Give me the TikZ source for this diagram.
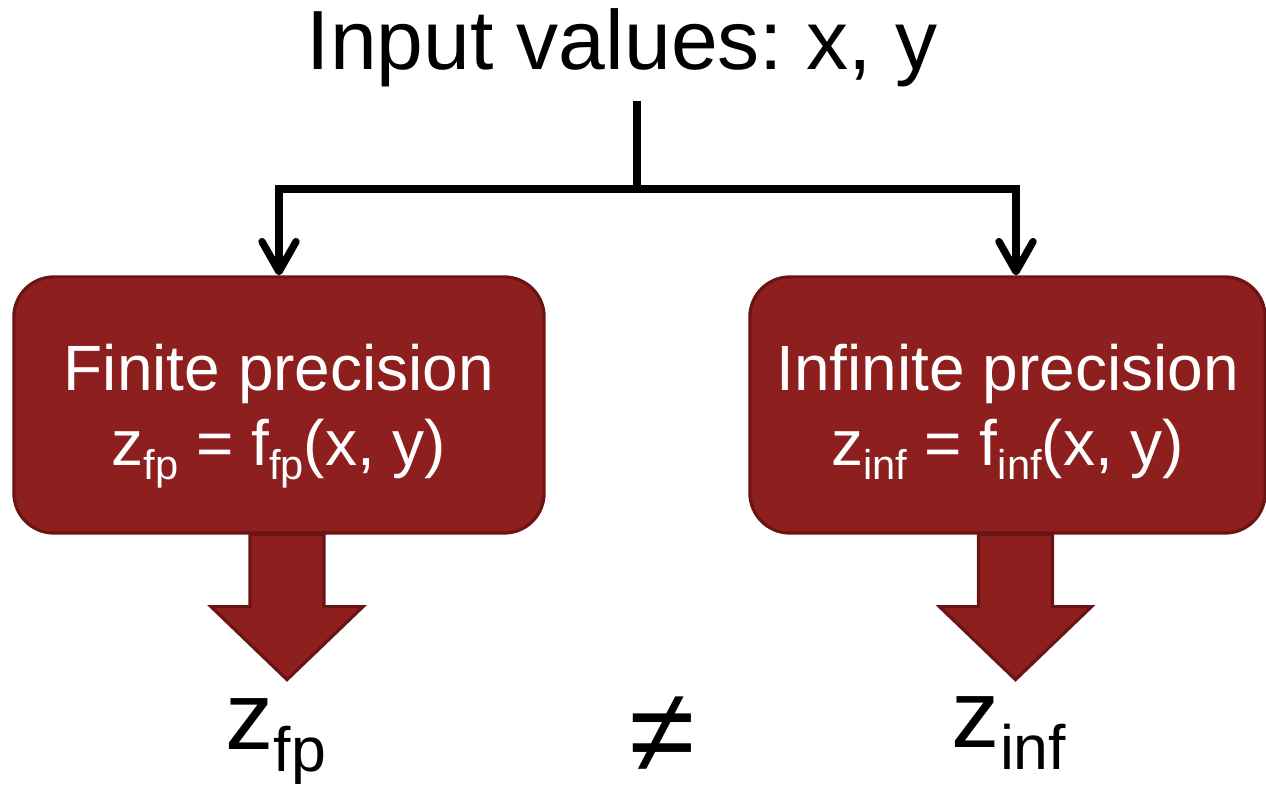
\documentclass[tikz,border=0pt]{standalone}
\usepackage{fontspec}
\setmainfont{Liberation Sans}
\usetikzlibrary{arrows.meta}
\definecolor{boxred}{HTML}{8E1F1F}
\definecolor{boxedge}{HTML}{6A1414}
\newcommand{\lowsub}[1]{\raisebox{-0.22em}{\scalebox{0.65}{#1}}}
\frenchspacing

\begin{document}
\begin{tikzpicture}[x=0.01cm, y=-0.01cm,
    procbox/.style={rectangle, draw=boxedge, line width=0.9pt, fill=boxred, rounded corners=0.4cm, text=white, align=center, minimum height=2.56cm, text depth=0pt, font=\fontsize{18.2}{21.2}\selectfont},
    wire/.style={line width=2.1pt, -{Straight Barb[length=3mm, width=3.4mm, round]}},
    bigarrow/.style={draw=boxedge, line width=0.9pt, fill=boxred},
    result/.style={font=\fontsize{27.4}{32}\selectfont, inner sep=0pt}
]
\useasboundingbox (0,0) rectangle (1266,786);

% Input line (absolute coordinates)
\node[anchor=base, inner sep=1.3mm, font=\fontsize{23.9}{28}\selectfont] (title) at (622,70) {Input values: x, y};

% The two evaluations
\node[procbox, minimum width=5.3cm] (finite) at (279,405) {Finite precision\\z\lowsub{fp} = f\lowsub{fp}(x, y)};
\node[procbox, minimum width=5.15cm] (infinite) at (1007.5,405) {Infinite precision\\z\lowsub{inf} = f\lowsub{inf}(x, y)};

% Results
\node[result, anchor=base] (zfp) at (276,750) {z\lowsub{fp}};
\node[result, font=\fontsize{34}{38}\selectfont] (neq) at (662,735) {≠};
\node[result, anchor=base] (zinf) at (1009,748) {z\lowsub{inf}};

% Split of the inputs
\coordinate (split) at (637,189);
\draw[line width=2.1pt] (title.south -| split) -- (split);
\draw[wire] (split) -| (finite.north);
\draw[wire] (split) -| ([xshift=0.085cm]infinite.north);

% Block arrows down to the results
\foreach \b in {finite, infinite}
  \path[bigarrow] ([xshift=0.08cm]\b.south) ++(-37,0) -- ++(0,72) -- ++(-39,0) -- ++(76,73) -- ++(76,-73) -- ++(-39,0) -- ++(0,-72) -- cycle;

\end{tikzpicture}
\end{document}
